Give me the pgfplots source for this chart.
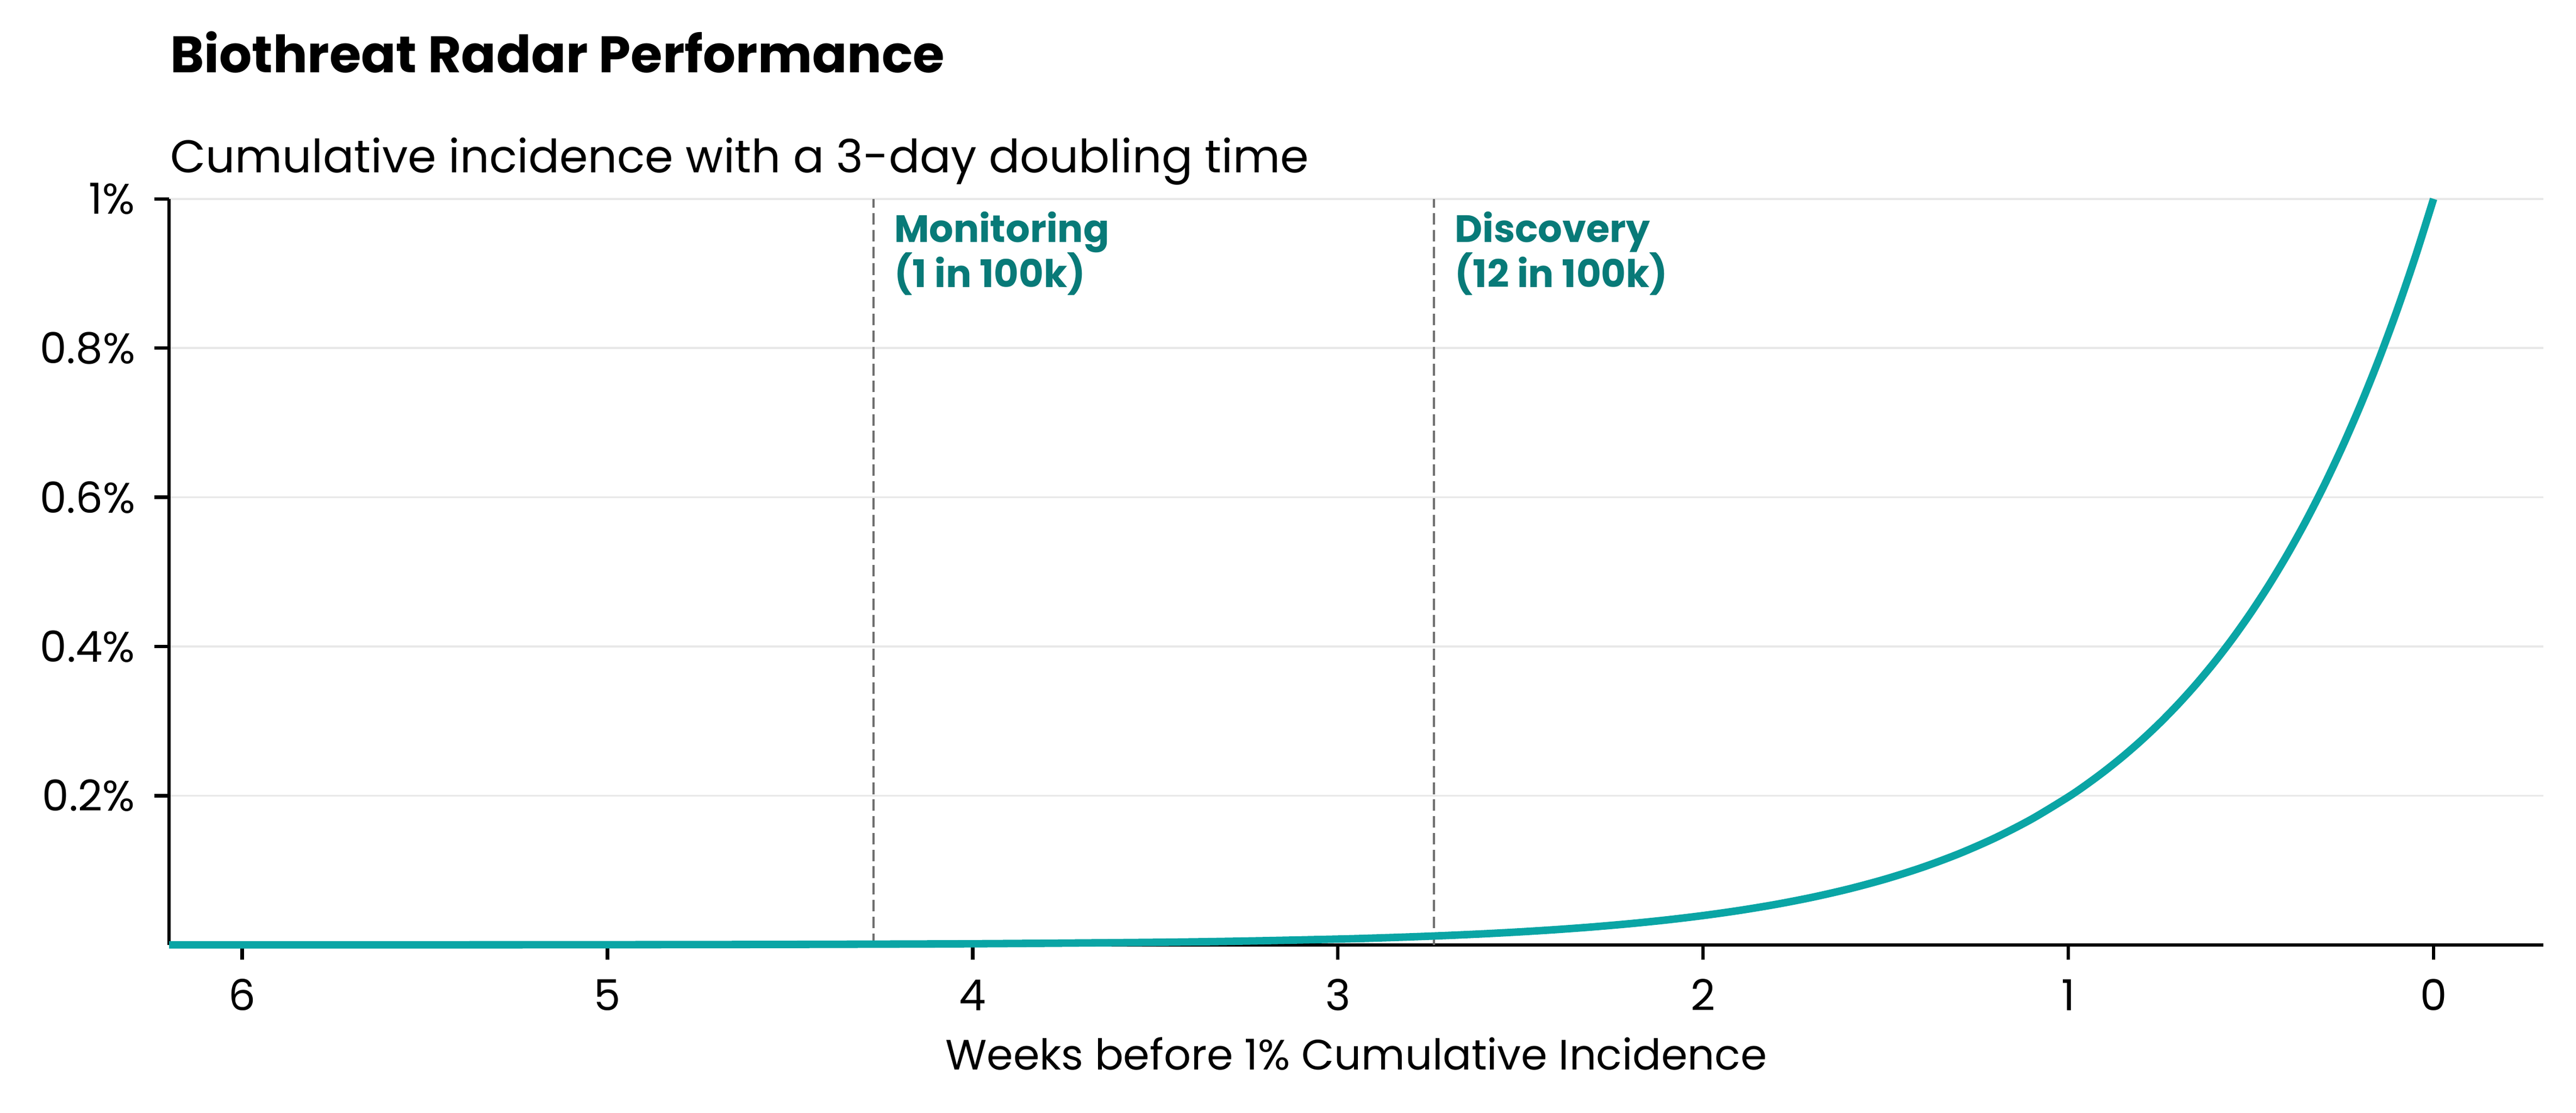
\documentclass[border=0pt]{standalone}
\usepackage{pgfplots}
\pgfplotsset{compat=1.18}
\usepackage{fontspec}
\setmainfont{Poppins}

\definecolor{curve}{HTML}{0AA5A5}
\definecolor{annot}{HTML}{087A78}
\definecolor{gridc}{HTML}{E8E8E8}
\definecolor{dashc}{HTML}{707070}

\begin{document}
\begin{tikzpicture}
\path[use as bounding box] (0,0) rectangle (15.68cm,6.77cm);

\node[anchor=base west, inner sep=0pt, font=\fontsize{8.9}{11}\selectfont\bfseries]
  at (1.03cm,6.33cm) {Biothreat Radar Performance};
\node[anchor=base west, inner sep=0pt, font=\fontsize{7.95}{10}\selectfont]
  at (1.03cm,5.72cm) {Cumulative incidence with a 3-day doubling time};
\node[anchor=base, inner sep=0pt, font=\fontsize{7.35}{9}\selectfont]
  at (8.255cm,0.26cm) {Weeks before 1\% Cumulative Incidence};

\begin{axis}[
    at={(1.03cm,1.02cm)}, anchor=south west,
    scale only axis,
    width=14.45cm, height=4.54cm,
    x dir=reverse,
    xmin=-0.3, xmax=6.2,
    ymin=0, ymax=1,
    axis x line*=bottom,
    axis y line*=left,
    axis line style={line width=0.6pt},
    tick align=outside,
    major tick length=0.9mm,
    tick style={line width=0.6pt, black},
    xtick={0,1,2,3,4,5,6},
    xticklabels={0,1,2,3,4,5,6},
    ytick={0.2,0.4,0.6,0.8,1},
    yticklabels={0.2\%,0.4\%,0.6\%,0.8\%,1\%},
    ticklabel style={font=\fontsize{7.4}{9}\selectfont, inner sep=0pt},
    xticklabel style={anchor=base, yshift=-3.1mm},
    yticklabel style={anchor=east, xshift=-1.1mm},
    ymajorgrids,
    grid style={gridc, line width=0.35pt},
    clip=false,
]

% vertical markers
\addplot[dashc, line width=0.4pt, dash pattern=on 2pt off 0.9pt]
  coordinates {(4.272,0) (4.272,1)};
\addplot[dashc, line width=0.4pt, dash pattern=on 2pt off 0.9pt]
  coordinates {(2.737,0) (2.737,1)};

% cumulative incidence (%), 3-day doubling
\addplot[curve, line width=1.3pt, smooth] coordinates {
(6.2,0.000044)
(6.0,0.000061)
(5.5,0.000137)
(5.0,0.000307)
(4.5,0.000691)
(4.0,0.001550)
(3.5,0.003481)
(3.25,0.005224)
(3.0,0.007813)
(2.9,0.009184)
(2.8,0.010797)
(2.7,0.012692)
(2.6,0.014920)
(2.5,0.017539)
(2.4,0.020618)
(2.3,0.024237)
(2.2,0.028492)
(2.1,0.033493)
(2.0,0.039373)
(1.9,0.046285)
(1.8,0.054410)
(1.7,0.063961)
(1.6,0.075190)
(1.5,0.088389)
(1.4,0.103905)
(1.3,0.122145)
(1.2,0.143587)
(1.1,0.168793)
(1.0,0.198424)
(0.95,0.215135)
(0.9,0.233257)
(0.85,0.252900)
(0.8,0.274206)
(0.75,0.297302)
(0.7,0.322342)
(0.65,0.349493)
(0.6,0.378929)
(0.55,0.410846)
(0.5,0.445449)
(0.45,0.482968)
(0.4,0.523647)
(0.35,0.567752)
(0.3,0.615572)
(0.25,0.667420)
(0.2,0.723634)
(0.15,0.784584)
(0.1,0.850667)
(0.05,0.922316)
(0.0,1.000000)
};

\node[anchor=base west, inner sep=0pt, align=left, text=annot,
      font=\fontsize{6.6}{7.9}\selectfont\bfseries]
  at (axis cs:4.272,1) [xshift=1.2mm, yshift=-5.4mm] {Monitoring\\(1 in 100k)};
\node[anchor=base west, inner sep=0pt, align=left, text=annot,
      font=\fontsize{6.6}{7.9}\selectfont\bfseries]
  at (axis cs:2.737,1) [xshift=1.2mm, yshift=-5.4mm] {Discovery\\(12 in 100k)};
\end{axis}
\end{tikzpicture}
\end{document}
